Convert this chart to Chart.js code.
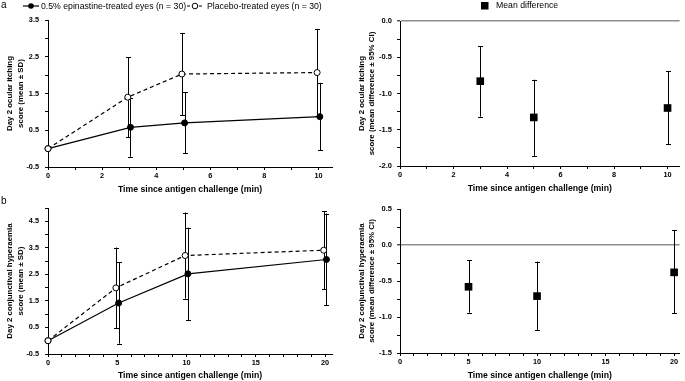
<!DOCTYPE html>
<html>
<head>
<meta charset="utf-8">
<script src="https://cdn.jsdelivr.net/npm/chart.js@4.4.1/dist/chart.umd.min.js"></script>
<style>
  html, body { margin: 0; padding: 0; background: #fff; }
  #wrap { position: relative; width: 685px; height: 381px; overflow: hidden; font-family: "Liberation Sans", Arial, sans-serif; color: #000; }
  #wrap canvas { position: absolute; left: 0; top: 0; }
  .lbl { position: absolute; font-size: 8.7px; line-height: 10px; white-space: nowrap; }
  .tag { position: absolute; font-size: 10px; line-height: 11px; }
  svg { position: absolute; overflow: visible; }
</style>
</head>
<body>
<div id="wrap">
  <canvas id="chartA" width="685" height="381"></canvas>
  <canvas id="chartADiff" width="685" height="381"></canvas>
  <canvas id="chartB" width="685" height="381"></canvas>
  <canvas id="chartBDiff" width="685" height="381"></canvas>

  <div class="tag" style="left:1px;top:-1px">a</div>
  <svg style="left:23px;top:2px" width="17" height="8">
    <line x1="0" y1="4" x2="16" y2="4" stroke="#000" stroke-width="1.2"/>
    <circle cx="8" cy="4" r="2.8" fill="#000"/>
  </svg>
  <div class="lbl" style="left:41px;top:1px">0.5% epinastine-treated eyes (n = 30)</div>
  <svg style="left:187px;top:2px" width="17" height="8">
    <line x1="0" y1="4" x2="16" y2="4" stroke="#000" stroke-width="1.2" stroke-dasharray="3,3"/>
    <circle cx="8" cy="4" r="2.8" fill="#fff" stroke="#000" stroke-width="1"/>
  </svg>
  <div class="lbl" style="left:207px;top:1px">Placebo-treated eyes (n = 30)</div>

  <svg style="left:481px;top:2px" width="8" height="8">
    <rect x="0" y="0" width="7.5" height="7.5" fill="#000"/>
  </svg>
  <div class="lbl" style="left:496px;top:0px">Mean difference</div>

  <div class="tag" style="left:1px;top:195px">b</div>
</div>

<script>
// a: Day 2 ocular itching
var itchTimes = [0, 3, 5, 10];
var itchEpiMean = [0, 0.58, 0.70, 0.87];
var itchEpiSD = [0, 0.80, 0.83, 0.92];
var itchPboMean = [0, 1.40, 2.03, 2.07];
var itchPboSD = [0, 1.09, 1.12, 1.18];
var itchDiffTimes = [3, 5, 10];
var itchDiff = [-0.83, -1.33, -1.20];
var itchDiffLo = [-1.32, -1.86, -1.70];
var itchDiffHi = [-0.35, -0.81, -0.69];

// b: Day 2 conjunctival hyperaemia
var hypTimes = [0, 5, 10, 20];
var hypEpiMean = [0, 1.42, 2.52, 3.06];
var hypEpiSD = [0, 1.53, 1.74, 1.73];
var hypPboMean = [0, 1.99, 3.21, 3.41];
var hypPboSD = [0, 1.52, 1.62, 1.47];
var hypDiffTimes = [5, 10, 20];
var hypDiff = [-0.58, -0.71, -0.38];
var hypDiffLo = [-0.94, -1.18, -0.95];
var hypDiffHi = [-0.21, -0.23, 0.21];

var FONT = '"Liberation Sans", Arial, sans-serif';
var W = 685, H = 381;

// error bars, drawn under the points
var errorBars = {
  id: 'errorBars',
  beforeDatasetsDraw: function (chart) {
    var ctx = chart.ctx, y = chart.scales.y;
    chart.data.datasets.forEach(function (ds, i) {
      if (!ds.errLo) return;
      var meta = chart.getDatasetMeta(i);
      ctx.save();
      ctx.strokeStyle = '#000';
      ctx.lineWidth = 1;
      meta.data.forEach(function (pt, j) {
        var lo = y.getPixelForValue(ds.errLo[j]);
        var hi = y.getPixelForValue(ds.errHi[j]);
        if (Math.abs(lo - hi) < 0.5) return;
        var x = Math.round(pt.x) + 0.5;
        ctx.beginPath();
        ctx.moveTo(x, lo); ctx.lineTo(x, hi);
        ctx.moveTo(x - 2.5, Math.round(lo) + 0.5); ctx.lineTo(x + 2.5, Math.round(lo) + 0.5);
        ctx.moveTo(x - 2.5, Math.round(hi) + 0.5); ctx.lineTo(x + 2.5, Math.round(hi) + 0.5);
        ctx.stroke();
      });
      ctx.restore();
    });
  }
};

function xAxis(max, labelEvery, height) {
  return {
    type: 'linear', min: 0, max: max,
    afterFit: function (s) { s.height = height; },
    border: { color: '#000', width: 1 },
    grid: { drawOnChartArea: false, drawTicks: true, tickLength: 3, color: '#000' },
    ticks: {
      stepSize: 1, autoSkip: false, includeBounds: false, padding: 2, maxRotation: 0,
      color: '#000', font: { family: FONT, size: 7.3, weight: 'bold' },
      callback: function (v) { return v % labelEvery === 0 ? String(v) : ''; }
    },
    title: {
      display: true, text: 'Time since antigen challenge (min)', color: '#000',
      font: { family: FONT, size: 8.7, weight: 'bold' }, padding: { top: 0, bottom: 0 }
    }
  };
}

function yAxis(min, max, step, labelEvery, width, title, titlePad, tickPad, tickSize, zeroLine) {
  return {
    type: 'linear', min: min, max: max,
    afterFit: function (s) { s.width = width; },
    border: { color: '#000', width: 1 },
    grid: {
      drawOnChartArea: zeroLine, drawTicks: true, tickLength: 3, tickColor: '#000', tickWidth: 1,
      color: function (c) {
        if (!zeroLine) return '#000';
        return c.tick && Math.abs(c.tick.value) < 1e-9 ? '#8f8f8f' : 'rgba(0,0,0,0)';
      },
      lineWidth: function (c) { return zeroLine && c.tick && Math.abs(c.tick.value) < 1e-9 ? 1.6 : 1; }
    },
    ticks: {
      stepSize: step, autoSkip: false, includeBounds: false, padding: tickPad,
      color: '#000', font: { family: FONT, size: tickSize, weight: 'bold' },
      callback: function (v) {
        var k = (v - min) / labelEvery;
        return Math.abs(k - Math.round(k)) < 1e-6 ? v.toFixed(1) : '';
      }
    },
    title: {
      display: true, text: title, color: '#000',
      font: { family: FONT, size: 7.9, weight: 'bold', lineHeight: 1.3 },
      padding: { top: titlePad, bottom: 0 }
    }
  };
}

function pts(times, vals, dodge) {
  return times.map(function (t, i) { return { x: t === 0 ? t : t + dodge, y: vals[i] }; });
}
function lows(m, sd) { return m.map(function (v, i) { return v - sd[i]; }); }
function highs(m, sd) { return m.map(function (v, i) { return v + sd[i]; }); }

function meanChart(id, times, epiM, epiSD, pboM, pboSD, dodge, pad, x, y) {
  return new Chart(document.getElementById(id), {
    type: 'line',
    data: {
      datasets: [
        { label: 'Placebo-treated eyes (n = 30)', data: pts(times, pboM, -dodge), errLo: lows(pboM, pboSD), errHi: highs(pboM, pboSD),
          borderColor: '#000', borderWidth: 1.2, borderDash: [4, 3], pointRadius: 3, pointBorderWidth: 1,
          pointBackgroundColor: '#fff', pointBorderColor: '#000', tension: 0, clip: false },
        { label: '0.5% epinastine-treated eyes (n = 30)', data: pts(times, epiM, dodge), errLo: lows(epiM, epiSD), errHi: highs(epiM, epiSD),
          borderColor: '#000', borderWidth: 1.2, pointRadius: 3, pointBorderWidth: 1,
          pointBackgroundColor: '#000', pointBorderColor: '#000', tension: 0, clip: false }
      ]
    },
    options: {
      responsive: false, animation: false, events: [],
      layout: { padding: pad },
      plugins: { legend: { display: false }, tooltip: { enabled: false } },
      scales: { x: x, y: y }
    },
    plugins: [errorBars]
  });
}

function diffChart(id, times, diff, lo, hi, pad, x, y) {
  return new Chart(document.getElementById(id), {
    type: 'line',
    data: {
      datasets: [
        { label: 'Mean difference', data: pts(times, diff, 0), errLo: lo, errHi: hi, showLine: false,
          pointStyle: 'rect', pointRadius: 5.4, pointBackgroundColor: '#000', pointBorderColor: '#000',
          pointBorderWidth: 0, clip: false }
      ]
    },
    options: {
      responsive: false, animation: false, events: [],
      layout: { padding: pad },
      plugins: { legend: { display: false }, tooltip: { enabled: false } },
      scales: { x: x, y: y }
    },
    plugins: [errorBars]
  });
}

meanChart('chartA', itchTimes, itchEpiMean, itchEpiSD, itchPboMean, itchPboSD, 0.05,
  { left: 0, top: 20, right: W - 332, bottom: H - 167 - 27.5 },
  xAxis(10.5, 2, 27.5),
  yAxis(-0.5, 3.5, 0.5, 1, 48, ['Day 2 ocular itching', 'score (mean \u00b1 SD)'], 5, 6, 7.3, false));

diffChart('chartADiff', itchDiffTimes, itchDiff, itchDiffLo, itchDiffHi,
  { left: 345, top: 21, right: W - 683, bottom: H - 166 - 28 },
  xAxis(10.45, 2, 28),
  yAxis(-2, 0, 0.25, 0.5, 55, ['Day 2 ocular itching', 'score (mean difference \u00b1 95% CI)'], 11.6, 5, 7.5, true));

meanChart('chartB', hypTimes, hypEpiMean, hypEpiSD, hypPboMean, hypPboSD, 0.1,
  { left: 0, top: 208, right: W - 332, bottom: H - 354 - 26.5 },
  xAxis(20.5, 5, 26.5),
  yAxis(-0.5, 5, 0.5, 1, 48, ['Day 2 conjunctival hyperaemia', 'score (mean \u00b1 SD)'], 5, 6, 7.3, false));

diffChart('chartBDiff', hypDiffTimes, hypDiff, hypDiffLo, hypDiffHi,
  { left: 345, top: 209, right: W - 683, bottom: H - 353 - 27.5 },
  xAxis(20.4, 5, 27.5),
  yAxis(-1.5, 0.5, 0.25, 0.5, 55, ['Day 2 conjunctival hyperaemia', 'score (mean difference \u00b1 95% CI)'], 11.6, 5, 7.5, true));
</script>
</body>
</html>
